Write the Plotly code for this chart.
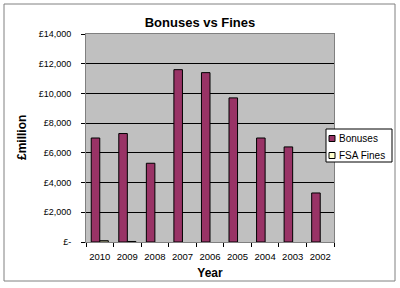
import plotly.graph_objects as go

years = ["2010", "2009", "2008", "2007", "2006", "2005", "2004", "2003", "2002"]
bonuses = [7000, 7300, 5300, 11600, 11400, 9700, 7000, 6400, 3300]
fsa_fines = [89, 35, None, None, None, None, None, None, None]
series_names = ["Bonuses", "FSA Fines"]
series_colors = ["#993366", "#FFFFCC"]

y_ticks = [0, 2000, 4000, 6000, 8000, 10000, 12000, 14000]
y_tick_labels = ["£-", "£2,000", "£4,000", "£6,000", "£8,000", "£10,000", "£12,000", "£14,000"]

FONT = "Liberation Sans, Arial, sans-serif"

fig = go.Figure()
for name, vals, col in zip(series_names, [bonuses, fsa_fines], series_colors):
    fig.add_trace(go.Bar(x=years, y=vals, name=name, showlegend=False,
                         marker=dict(color=col, line=dict(color="black", width=1))))

L, R, T, B = 86, 334, 34, 242
W, H = R - L, B - T

def px(x):
    return (x - L) / W

def py(y):
    return (B - y) / H

shapes = [
    dict(type="rect", xref="paper", yref="paper",
         x0=px(4), x1=px(395), y0=py(4), y1=py(281),
         line=dict(color="#808080", width=1), layer="below"),
    dict(type="rect", xref="paper", yref="paper",
         x0=px(326), x1=px(392), y0=py(162), y1=py(129),
         line=dict(color="black", width=1), fillcolor="white"),
]
annotations = [
    dict(text="<b>£million</b>", x=px(22), y=0.5, xref="paper", yref="paper",
         textangle=-90, showarrow=False, xanchor="center", yanchor="middle",
         font=dict(family=FONT, size=12, color="black")),
]
for i, (name, col) in enumerate(zip(series_names, series_colors)):
    cy = 138.5 + i * 17
    shapes.append(dict(type="rect", xref="paper", yref="paper",
                       x0=px(329), x1=px(335), y0=py(cy + 3), y1=py(cy - 3),
                       line=dict(color="black", width=1), fillcolor=col))
    annotations.append(dict(text=name, x=px(337), y=py(cy), xref="paper", yref="paper",
                            showarrow=False, xanchor="left", yanchor="middle",
                            font=dict(family=FONT, size=10, color="black")))

fig.update_layout(
    width=400, height=288,
    margin=dict(l=L, r=400 - R, t=T, b=288 - B),
    paper_bgcolor="white",
    plot_bgcolor="#C0C0C0",
    barmode="group",
    bargap=0.38,
    bargroupgap=0,
    font=dict(family=FONT, size=10, color="black"),
    title=dict(text="<b>Bonuses vs Fines</b>", x=0.5, xanchor="center",
               y=1 - 22 / 288, yanchor="middle",
               font=dict(family=FONT, size=13, color="black")),
    showlegend=False,
    xaxis=dict(type="category", showgrid=False, ticks="outside", tickson="boundaries",
               ticklen=4, tickcolor="black", showline=True, linecolor="#808080",
               mirror=True, tickangle=0, ticklabelstandoff=6, automargin=False,
               tickfont=dict(family=FONT, size=9.5, color="black"),
               title=dict(text="<b>Year</b>", font=dict(family=FONT, size=12, color="black"),
                          standoff=7)),
    yaxis=dict(range=[0, 14000], tickvals=y_ticks, ticktext=y_tick_labels,
               showgrid=True, gridcolor="black", gridwidth=1,
               ticks="outside", ticklen=4, tickcolor="black",
               showline=True, linecolor="#808080", mirror=True, zeroline=False,
               ticklabelstandoff=8, automargin=False,
               tickfont=dict(family=FONT, size=9, color="black")),
    annotations=annotations,
    shapes=shapes,
)

fig.write_html("out.html")
